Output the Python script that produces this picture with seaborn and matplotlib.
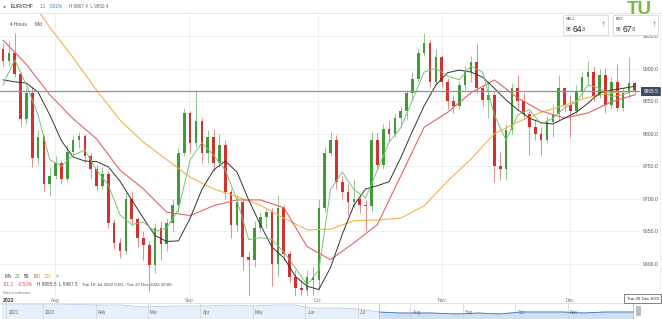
import numpy as np
import pandas as pd
import matplotlib
matplotlib.use("Agg")
import matplotlib.pyplot as plt
import seaborn as sns
from matplotlib.patches import Rectangle
from matplotlib.lines import Line2D
from matplotlib.ticker import FormatStrFormatter

# ---------------- data (daily OHLC) ----------------
opens = [9930, 9912, 9925, 9892, 9822, 9862, 9762, 9795, 9722, 9735,
         9755, 9730, 9772, 9790, 9796, 9765, 9745, 9720, 9738, 9662,
         9632, 9620, 9700, 9668, 9640, 9628, 9598, 9655, 9630, 9662,
         9690, 9770, 9832, 9785, 9820, 9770, 9795, 9755, 9782, 9710,
         9660, 9695, 9610, 9605, 9655, 9672, 9680, 9600, 9685, 9615,
         9580, 9562, 9560, 9580, 9575, 9685, 9770, 9790, 9725, 9710,
         9695, 9700, 9690, 9688, 9790, 9752, 9808, 9800, 9825, 9835,
         9862, 9885, 9925, 9940, 9880, 9918, 9880, 9850, 9842, 9875,
         9895, 9910, 9870, 9852, 9860, 9750, 9745, 9805, 9870, 9850,
         9830, 9810, 9800, 9790, 9818, 9830, 9870, 9845, 9835, 9865,
         9888, 9895, 9858, 9890, 9845, 9880, 9840, 9862, 9878]
highs = [9940, 9942, 9955, 9895, 9870, 9872, 9805, 9798, 9748, 9765,
         9760, 9782, 9798, 9803, 9800, 9770, 9752, 9748, 9742, 9668,
         9640, 9710, 9712, 9672, 9650, 9635, 9662, 9665, 9670, 9700,
         9778, 9840, 9835, 9867, 9825, 9805, 9808, 9800, 9790, 9715,
         9705, 9700, 9620, 9665, 9680, 9685, 9685, 9705, 9690, 9620,
         9590, 9575, 9590, 9595, 9700, 9780, 9802, 9798, 9735, 9722,
         9730, 9705, 9698, 9802, 9802, 9815, 9820, 9832, 9842, 9868,
         9895, 9932, 9955, 9945, 9930, 9922, 9886, 9860, 9882, 9905,
         9920, 9938, 9875, 9878, 9865, 9772, 9815, 9878, 9890, 9862,
         9835, 9822, 9810, 9828, 9845, 9890, 9872, 9860, 9875, 9895,
         9912, 9905, 9900, 9902, 9888, 9908, 9870, 9918, 9882]
lows = [9905, 9905, 9888, 9812, 9815, 9748, 9752, 9712, 9704, 9730,
        9722, 9726, 9768, 9778, 9755, 9730, 9712, 9715, 9655, 9622,
        9608, 9615, 9660, 9625, 9605, 9558, 9585, 9605, 9620, 9648,
        9680, 9765, 9770, 9780, 9755, 9755, 9742, 9748, 9700, 9640,
        9650, 9590, 9550, 9595, 9648, 9655, 9565, 9580, 9605, 9572,
        9550, 9540, 9545, 9552, 9560, 9680, 9765, 9715, 9700, 9675,
        9685, 9678, 9650, 9680, 9745, 9745, 9788, 9795, 9810, 9822,
        9852, 9880, 9920, 9872, 9875, 9872, 9838, 9832, 9838, 9868,
        9880, 9862, 9842, 9825, 9725, 9728, 9730, 9800, 9838, 9822,
        9768, 9790, 9768, 9785, 9795, 9820, 9835, 9795, 9830, 9855,
        9875, 9850, 9855, 9832, 9838, 9835, 9835, 9855, 9860]
closes = [9912, 9925, 9892, 9822, 9862, 9762, 9795, 9722, 9735, 9755,
          9730, 9772, 9790, 9796, 9765, 9745, 9720, 9738, 9662, 9632,
          9620, 9700, 9668, 9640, 9628, 9598, 9655, 9630, 9662, 9690,
          9770, 9832, 9785, 9820, 9770, 9795, 9755, 9782, 9710, 9660,
          9695, 9610, 9605, 9655, 9672, 9680, 9600, 9685, 9615, 9580,
          9562, 9560, 9580, 9575, 9685, 9770, 9790, 9725, 9710, 9695,
          9700, 9690, 9688, 9790, 9752, 9808, 9800, 9825, 9835, 9862,
          9885, 9925, 9940, 9880, 9918, 9880, 9850, 9842, 9875, 9895,
          9910, 9870, 9852, 9860, 9750, 9745, 9805, 9870, 9850, 9830,
          9810, 9800, 9790, 9818, 9830, 9870, 9845, 9835, 9865, 9888,
          9895, 9858, 9890, 9845, 9880, 9840, 9862, 9878, 9865.5]

# moving averages
ma_days_4 = list(range(0, 109, 4))
ma200 = [10063, 10015, 9964, 9917, 9867, 9821, 9787, 9760, 9733, 9715,
         9703, 9690, 9670, 9652, 9653, 9666, 9667, 9670, 9689, 9727,
         9761, 9800, 9818, 9833, 9844, 9856, 9863, 9866]
ma100 = [9944, 9907, 9860, 9823, 9792, 9744, 9715, 9679, 9674, 9689,
         9698, 9698, 9686, 9626, 9606, 9632, 9660, 9735, 9810, 9833,
         9863, 9883, 9855, 9835, 9824, 9832, 9849, 9860]
ma_days_2 = list(range(0, 109, 2))
ma50 = [9883, 9880, 9878, 9864, 9829, 9789, 9764, 9758, 9757, 9749,
        9727, 9698, 9670, 9643, 9634, 9635, 9670, 9714, 9744, 9758,
        9741, 9698, 9660, 9625, 9609, 9580, 9565, 9560, 9594, 9645,
        9690, 9715, 9720, 9726, 9763, 9804, 9843, 9875, 9894, 9898,
        9895, 9887, 9870, 9852, 9837, 9824, 9817, 9815, 9824, 9833,
        9847, 9863, 9867, 9870, 9873]
ma20 = [9875, 9914, 9875, 9829, 9760, 9750, 9767, 9775, 9744, 9721,
        9675, 9660, 9664, 9649, 9655, 9683, 9760, 9786, 9767, 9744,
        9698, 9637, 9640, 9637, 9618, 9593, 9567, 9590, 9714, 9741,
        9714, 9701, 9744, 9787, 9809, 9852, 9895, 9901, 9889, 9883,
        9904, 9895, 9829, 9790, 9829, 9837, 9815, 9824, 9840, 9849,
        9875, 9870, 9857, 9860, 9867]

month_pos = [8.9, 31.8, 53.85, 75.0, 96.9]
month_labels = ["Aug", "Sep", "Oct", "Nov", "Dec"]
price_ticks = [9600, 9650, 9700, 9750, 9800, 9850, 9900, 9950]

# navigator (overview strip)
nav_month = [-0.8, -0.4, 0.3, 1.0, 1.5, 1.9, 2.5, 3.1, 3.6, 4.0, 4.4, 4.8,
             5.1, 5.7, 6.0, 6.4, 6.8, 7.4, 7.9, 8.3, 8.7, 9.1, 9.5, 9.9,
             10.3, 10.7, 11.25]
nav_price = [10400, 10400, 10400, 10310, 10310, 10130, 10220, 10220, 10310,
             10220, 10310, 10310, 10040, 10040, 9950, 9680, 9590, 9590, 9500,
             9590, 9500, 9680, 9680, 9680, 9590, 9680, 9680]
nav_sep = [-0.7, 0, 1, 2, 3, 4, 5, 6, 7, 8, 9, 10]
nav_labels = ["2021", "2022", "Feb", "Mar", "Apr", "May", "Jun", "Jul",
              "Aug", "Sep", "Oct", "Nov"]

# ---------------- figure ----------------
sns.set_theme(style="white")
plt.rcParams['font.family'] = ['Liberation Sans', 'DejaVu Sans']

W, H = 662, 319
fig = plt.figure(figsize=(W / 100, H / 100), dpi=100)
fig.patch.set_facecolor("white")


def T(x, y, s, size=3.4, color="#444444", ha="left", va="center", **kw):
    fig.text(x / W, 1 - y / H, s, fontsize=size, color=color, ha=ha, va=va, **kw)


def R(x0, y0, x1, y1, **kw):
    fig.add_artist(Rectangle((x0 / W, 1 - y1 / H), (x1 - x0) / W, (y1 - y0) / H,
                             transform=fig.transFigure, **kw))


ax = fig.add_axes([0, 1 - 296 / H, 640 / W, (296 - 13) / H])
ax.set_facecolor("white")

df = pd.DataFrame({"day": np.arange(len(closes)), "open": opens, "high": highs,
                   "low": lows, "close": closes})
up = df["close"] >= df["open"]
col_up, col_dn = "#3f9b36", "#d3302f"
colors = np.where(up, col_up, col_dn)

ax.vlines(df["day"], df["low"], df["high"], colors=colors, lw=0.55, alpha=0.7, zorder=3)
body = (df["close"] - df["open"]).abs().clip(lower=1.5)
bottom = np.minimum(df["open"], df["close"])
ax.bar(df["day"], body, bottom=bottom, width=0.45, color=colors, linewidth=0, zorder=4)

sns.lineplot(x=ma_days_4, y=ma200, ax=ax, color="#f4b24a", lw=0.8, zorder=5)
sns.lineplot(x=ma_days_4, y=ma100, ax=ax, color="#e06464", lw=0.8, zorder=5)
sns.lineplot(x=ma_days_2, y=ma50, ax=ax, color="#333333", lw=0.7, zorder=5)
sns.lineplot(x=ma_days_2, y=ma20, ax=ax, color="#79c279", lw=0.7, zorder=5)

ax.axhline(closes[-1], color="#8a93a5", lw=0.9, zorder=6)

ax.set_xlim(-0.51, 108.9)
ax.set_ylim(9550, 9986)
ax.set_yticks(price_ticks)
ax.yaxis.tick_right()
ax.yaxis.set_major_formatter(FormatStrFormatter("%.1f"))
ax.set_xticks(month_pos)
ax.set_xticklabels(month_labels)
ax.tick_params(axis="y", length=0, pad=2.2, labelsize=3.7, labelcolor="#555555")
ax.tick_params(axis="x", length=0, pad=1.2, labelsize=3.5, labelcolor="#777777")
ax.grid(True, color="#ececec", lw=0.6, zorder=0)
ax.set_xlabel("")
ax.set_ylabel("")
for s in ax.spines.values():
    s.set_visible(False)

# ---------------- header ----------------
fig.add_artist(Line2D([0, 1], [1 - 13 / H, 1 - 13 / H], transform=fig.transFigure,
                      color="#e2e2e2", lw=0.6))
T(3, 6, "\u25CF", size=3.6, color="#3aa655")
T(11, 6, "EUR/CHF", size=3.8, color="#222222")
T(40, 6, "1:1", size=3.3, color="#777777")
T(50, 6, "0.01%", size=3.3, color="#4a7ab5")
T(69, 6, "H 9867.4  L 9852.4", size=3.3, color="#666666")
T(10, 24, "4 Hours", size=3.4, color="#444444")
T(35, 24, "Mid", size=3.4, color="#444444")

# sell / buy boxes
for (x0, lab, big, arr) in [(563, "SELL", "64", 603), (613, "BUY", "67", 654)]:
    R(x0, 15, x0 + 45, 35, facecolor="white", edgecolor="#cfcfcf", lw=0.5)
    T(x0 + 3, 19, lab, size=2.8, color="#333333")
    T(x0 + 3, 29.5, "98", size=3.6, color="#333333")
    T(x0 + 9.5, 29, big, size=6.2, color="#222222")
    T(x0 + 18.5, 29.5, ".0", size=3.6, color="#333333")
    T(arr, 25, "\u2191", size=4.2, color="#777777", ha="center",
      family=["DejaVu Sans"])
T(627, 1, "TU", size=13.5, color="#76bc43", va="top", fontweight="bold")

# right border dotted line
fig.add_artist(Line2D([660 / W, 660 / W], [1 - 13 / H, 1 - 300 / H],
                      transform=fig.transFigure, color="#c8c8c8", lw=0.5, ls=":"))
# last price marker
R(641, 86.5, 661, 95.5, facecolor="#3d4b66", edgecolor="none")
T(651, 91, "9865.5", size=3.4, color="white", ha="center")

# ---------------- legend texts ----------------
T(5, 276, "MA", size=3.4, color="#444444")
T(15, 276, "20", size=3.4, color="#4caf50")
T(24, 276, "50", size=3.4, color="#222222")
T(33, 276, "100", size=3.4, color="#e05555")
T(44, 276, "200", size=3.4, color="#f0a030")
T(56, 276, "\u00D7", size=3.6, color="#666666")
T(3, 285, "-51.2", size=3.4, color="#d9534f")
T(18, 285, "-0.52%", size=3.4, color="#d9534f")
T(37, 285, "H 9955.5", size=3.4, color="#444444")
T(59, 285, "L 9487.5", size=3.4, color="#444444")
T(82, 285, "Tue 19 Jul 2022 0:00 - Tue 20 Dec 2022 20:00", size=3.2, color="#444444")
T(3, 293, "Data is indicative", size=2.6, color="#777777")
T(3, 300, "2022", size=3.7, color="#333333", fontweight="bold")

R(624, 294, 661, 303, facecolor="white", edgecolor="#555555", lw=0.5)
T(642.5, 298.5, "Tue 20 Dec 8:00", size=3.2, color="#222222", ha="center")

# ---------------- navigator ----------------
nav = fig.add_axes([0, 0, 645 / W, 16 / H])
nav.set_facecolor("white")
nav.set_xlim(-0.82, 11.47)
nav.set_ylim(9050, 10490)
nav.fill_between(nav_month, nav_price, 9050, color="#e7f0fa", lw=0)
sns.lineplot(x=nav_month, y=nav_price, ax=nav, color="#a8c3e6", lw=0.5)
sel = [i for i, m in enumerate(nav_month) if m >= 6.4]
sel_m = [nav_month[i] for i in sel]
sel_p = [nav_price[i] for i in sel]
nav.fill_between(sel_m, sel_p, 9050, color="#cfe0f3", lw=0)
sns.lineplot(x=sel_m, y=sel_p, ax=nav, color="#3b78c2", lw=0.6)
nav.axvline(6.4, color="#9fb6d3", lw=0.5)
nav.axvline(11.25, color="#9fb6d3", lw=0.5)
nav.add_patch(Rectangle((11.3, 9300), 0.1, 900, color="#bdbdbd", lw=0))
for m, lab in zip(nav_sep, nav_labels):
    nav.axvline(m, color="#d3d3d3", lw=0.5, zorder=1)
    nav.text(m + 0.04, 0.42, lab, transform=nav.get_xaxis_transform(),
             fontsize=3.3, color="#666666", va="center", ha="left")
nav.axhline(10490, color="#dddddd", lw=0.6)
nav.set_xticks([])
nav.set_yticks([])
nav.set_xlabel("")
nav.set_ylabel("")
for s in nav.spines.values():
    s.set_visible(False)

fig.savefig("out.png", dpi=100, facecolor="white")
